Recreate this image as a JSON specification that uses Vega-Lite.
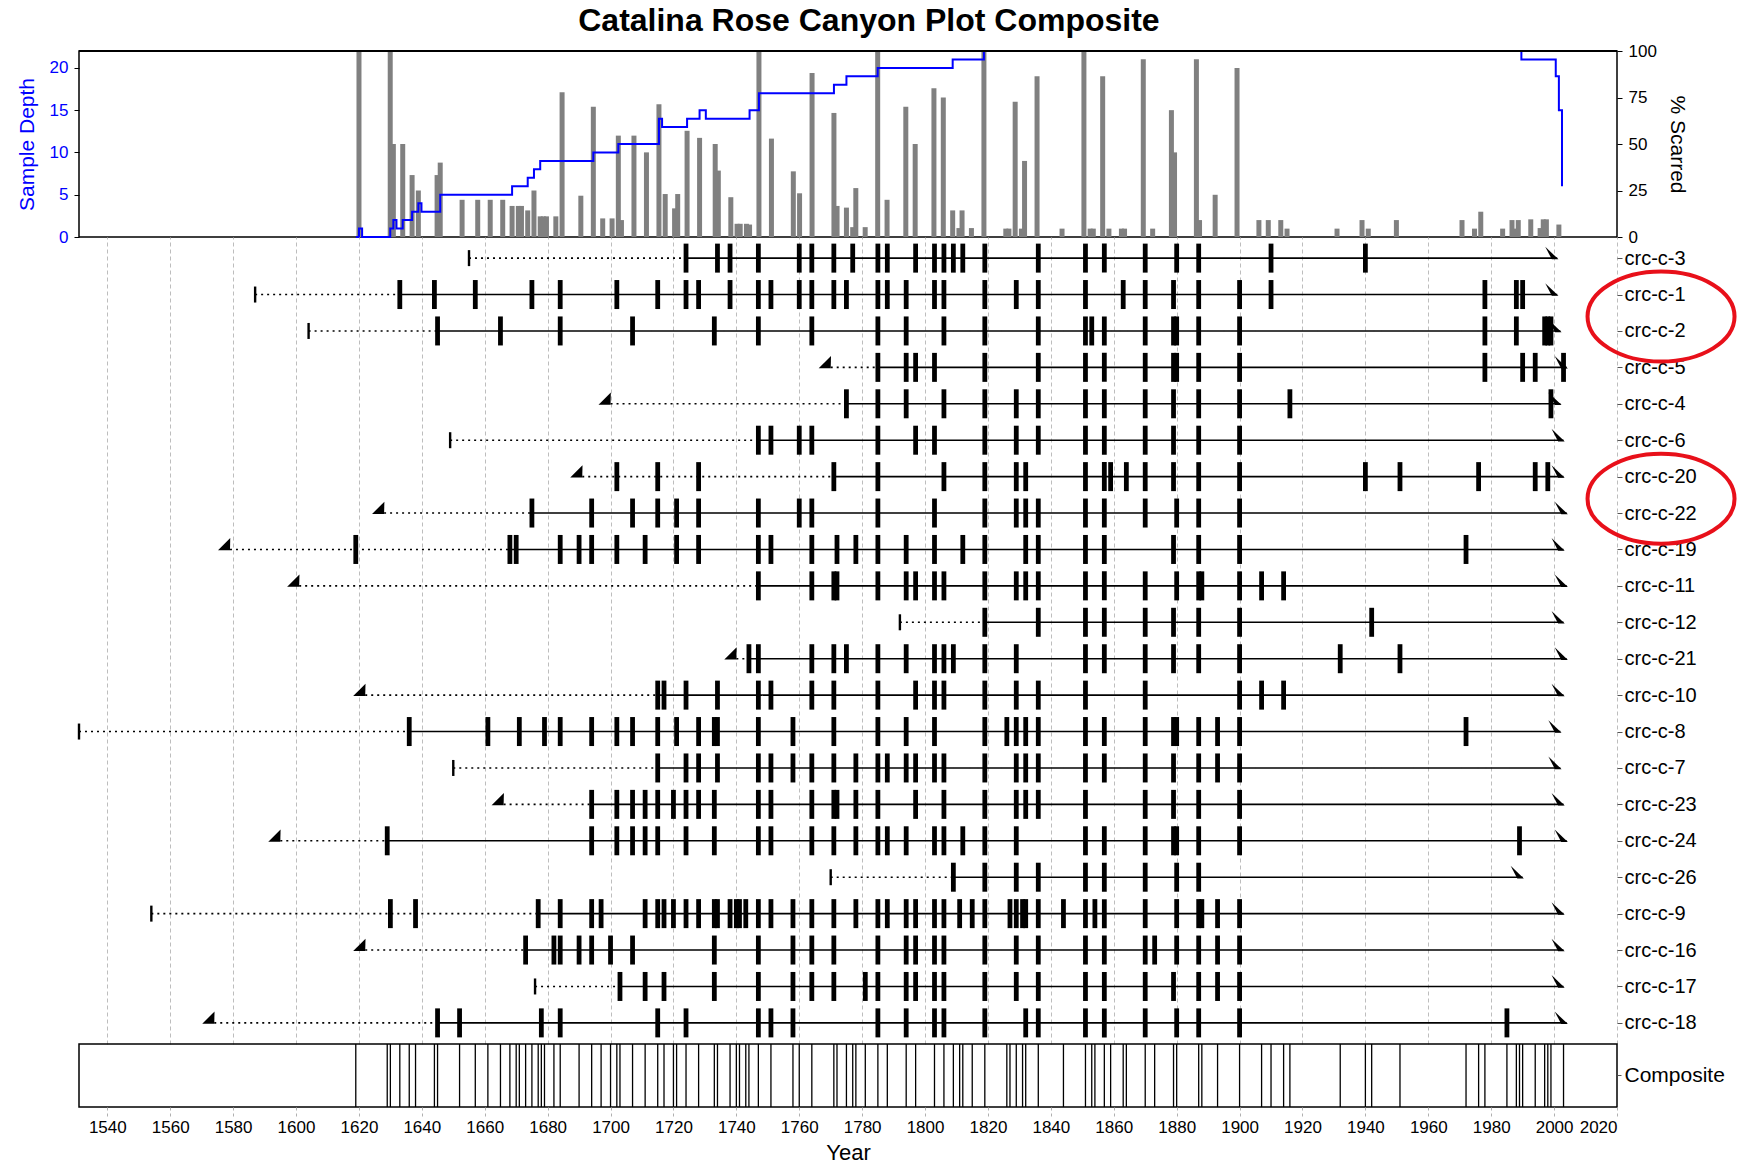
{
  "$schema": "https://vega.github.io/schema/vega-lite/v6.json",
  "padding": {"left": 15, "top": 5, "right": 5, "bottom": 0},
  "spacing": 0,
  "bounds": "flush",
  "title": {"text": "Catalina Rose Canyon Plot Composite", "fontSize": 32, "font": "Liberation Sans", "fontWeight": "bold", "offset": 3, "color": "black", "anchor": "middle", "dx": -10},
  "config": {
    "font": "Liberation Sans",
    "view": {"stroke": null},
    "axis": {"labelFont": "Liberation Sans", "titleFont": "Liberation Sans", "labelColor": "black", "titleColor": "black", "tickColor": "black", "domain": false, "gridColor": "#BDBDBD", "gridDash": [4, 3], "gridWidth": 1, "titleFontWeight": "normal"}
  },
  "datasets": {
    "pct": [
      {"year":1619,"pct":100},{"year":1629,"pct":100},{"year":1630,"pct":50},{"year":1633,"pct":50},{"year":1636,"pct":33.3},{"year":1638,"pct":25},{"year":1644,"pct":33.3},{"year":1645,"pct":40},{"year":1652,"pct":20},{"year":1657,"pct":20},{"year":1661,"pct":20},{"year":1665,"pct":20},{"year":1668,"pct":16.7},{"year":1670,"pct":16.7},{"year":1671,"pct":16.7},{"year":1673,"pct":14.3},{"year":1675,"pct":25},{"year":1677,"pct":11.1},{"year":1678,"pct":11.1},{"year":1679,"pct":11.1},{"year":1682,"pct":11.1},{"year":1684,"pct":77.8},{"year":1690,"pct":22.2},{"year":1694,"pct":70},{"year":1697,"pct":10},{"year":1700,"pct":10},{"year":1702,"pct":54.5},{"year":1703,"pct":9.1},{"year":1707,"pct":54.5},{"year":1711,"pct":45.5},{"year":1715,"pct":71.4},{"year":1717,"pct":23.1},{"year":1720,"pct":15.4},{"year":1721,"pct":23.1},{"year":1724,"pct":57.1},{"year":1728,"pct":53.3},{"year":1733,"pct":50},{"year":1734,"pct":35.7},{"year":1738,"pct":21.4},{"year":1740,"pct":7.1},{"year":1741,"pct":7.1},{"year":1743,"pct":7.1},{"year":1744,"pct":6.7},{"year":1747,"pct":100},{"year":1751,"pct":52.9},{"year":1758,"pct":35.3},{"year":1760,"pct":23.5},{"year":1764,"pct":88.2},{"year":1771,"pct":66.7},{"year":1772,"pct":16.7},{"year":1775,"pct":15.8},{"year":1777,"pct":5.3},{"year":1778,"pct":26.3},{"year":1781,"pct":5.3},{"year":1785,"pct":100},{"year":1788,"pct":20},{"year":1794,"pct":70},{"year":1797,"pct":50},{"year":1803,"pct":80},{"year":1806,"pct":75},{"year":1809,"pct":14.3},{"year":1811,"pct":4.8},{"year":1812,"pct":14.3},{"year":1815,"pct":4.8},{"year":1819,"pct":100},{"year":1826,"pct":4.5},{"year":1827,"pct":4.5},{"year":1829,"pct":72.7},{"year":1831,"pct":4.5},{"year":1832,"pct":40.9},{"year":1836,"pct":86.4},{"year":1844,"pct":4.5},{"year":1851,"pct":100},{"year":1853,"pct":4.5},{"year":1854,"pct":4.5},{"year":1857,"pct":86.4},{"year":1859,"pct":4.5},{"year":1863,"pct":4.5},{"year":1864,"pct":4.5},{"year":1870,"pct":95.5},{"year":1873,"pct":4.5},{"year":1879,"pct":68.2},{"year":1880,"pct":45.5},{"year":1887,"pct":95.5},{"year":1888,"pct":9.1},{"year":1893,"pct":22.7},{"year":1900,"pct":90.9},{"year":1907,"pct":9.1},{"year":1910,"pct":9.1},{"year":1914,"pct":9.1},{"year":1916,"pct":4.5},{"year":1932,"pct":4.5},{"year":1940,"pct":9.1},{"year":1942,"pct":4.5},{"year":1951,"pct":9.1},{"year":1972,"pct":9.1},{"year":1976,"pct":4.5},{"year":1978,"pct":13.6},{"year":1985,"pct":4.5},{"year":1988,"pct":9.1},{"year":1989,"pct":4.5},{"year":1990,"pct":9.1},{"year":1994,"pct":9.5},{"year":1997,"pct":4.8},{"year":1998,"pct":9.5},{"year":1999,"pct":9.5},{"year":2003,"pct":6.7}
    ],
    "depth": [
      {"year":1618,"depth":0},{"year":1619,"depth":1},{"year":1620,"depth":0},{"year":1629,"depth":1},{"year":1630,"depth":2},{"year":1631,"depth":1},{"year":1633,"depth":2},{"year":1636,"depth":3},{"year":1638,"depth":4},{"year":1639,"depth":3},{"year":1645,"depth":5},{"year":1668,"depth":6},{"year":1673,"depth":7},{"year":1675,"depth":8},{"year":1677,"depth":9},{"year":1694,"depth":10},{"year":1702,"depth":11},{"year":1715,"depth":14},{"year":1716,"depth":13},{"year":1724,"depth":14},{"year":1728,"depth":15},{"year":1730,"depth":14},{"year":1744,"depth":15},{"year":1747,"depth":17},{"year":1771,"depth":18},{"year":1775,"depth":19},{"year":1785,"depth":20},{"year":1809,"depth":21},{"year":1819,"depth":22},{"year":1991,"depth":21},{"year":2002,"depth":19},{"year":2003,"depth":15},{"year":2004,"depth":6}
    ],
    "frame": [
      {"top": 22}
    ],
    "segments": [
      {"tree":"crc-c-3","start":1655,"end":1724,"kind":"non"},{"tree":"crc-c-3","start":1724,"end":2001,"kind":"rec"},
      {"tree":"crc-c-1","start":1587,"end":1633,"kind":"non"},{"tree":"crc-c-1","start":1633,"end":2001,"kind":"rec"},
      {"tree":"crc-c-2","start":1604,"end":1645,"kind":"non"},{"tree":"crc-c-2","start":1645,"end":2002,"kind":"rec"},
      {"tree":"crc-c-5","start":1770,"end":1785,"kind":"non"},{"tree":"crc-c-5","start":1785,"end":2004,"kind":"rec"},
      {"tree":"crc-c-4","start":1700,"end":1775,"kind":"non"},{"tree":"crc-c-4","start":1775,"end":2002,"kind":"rec"},
      {"tree":"crc-c-6","start":1649,"end":1747,"kind":"non"},{"tree":"crc-c-6","start":1747,"end":2003,"kind":"rec"},
      {"tree":"crc-c-20","start":1691,"end":1771,"kind":"non"},{"tree":"crc-c-20","start":1771,"end":2003,"kind":"rec"},
      {"tree":"crc-c-22","start":1628,"end":1675,"kind":"non"},{"tree":"crc-c-22","start":1675,"end":2004,"kind":"rec"},
      {"tree":"crc-c-19","start":1579,"end":1668,"kind":"non"},{"tree":"crc-c-19","start":1668,"end":2003,"kind":"rec"},
      {"tree":"crc-c-11","start":1601,"end":1747,"kind":"non"},{"tree":"crc-c-11","start":1747,"end":2004,"kind":"rec"},
      {"tree":"crc-c-12","start":1792,"end":1819,"kind":"non"},{"tree":"crc-c-12","start":1819,"end":2003,"kind":"rec"},
      {"tree":"crc-c-21","start":1740,"end":1744,"kind":"non"},{"tree":"crc-c-21","start":1744,"end":2004,"kind":"rec"},
      {"tree":"crc-c-10","start":1622,"end":1715,"kind":"non"},{"tree":"crc-c-10","start":1715,"end":2003,"kind":"rec"},
      {"tree":"crc-c-8","start":1531,"end":1636,"kind":"non"},{"tree":"crc-c-8","start":1636,"end":2002,"kind":"rec"},
      {"tree":"crc-c-7","start":1650,"end":1715,"kind":"non"},{"tree":"crc-c-7","start":1715,"end":2002,"kind":"rec"},
      {"tree":"crc-c-23","start":1666,"end":1694,"kind":"non"},{"tree":"crc-c-23","start":1694,"end":2003,"kind":"rec"},
      {"tree":"crc-c-24","start":1595,"end":1629,"kind":"non"},{"tree":"crc-c-24","start":1629,"end":2004,"kind":"rec"},
      {"tree":"crc-c-26","start":1770,"end":1809,"kind":"non"},{"tree":"crc-c-26","start":1809,"end":1990,"kind":"rec"},
      {"tree":"crc-c-9","start":1554,"end":1677,"kind":"non"},{"tree":"crc-c-9","start":1677,"end":2003,"kind":"rec"},
      {"tree":"crc-c-16","start":1622,"end":1673,"kind":"non"},{"tree":"crc-c-16","start":1673,"end":2003,"kind":"rec"},
      {"tree":"crc-c-17","start":1676,"end":1703,"kind":"non"},{"tree":"crc-c-17","start":1703,"end":2003,"kind":"rec"},
      {"tree":"crc-c-18","start":1574,"end":1645,"kind":"non"},{"tree":"crc-c-18","start":1645,"end":2004,"kind":"rec"}
    ],
    "pith": [
      {"tree":"crc-c-3","year":1655},{"tree":"crc-c-1","year":1587},{"tree":"crc-c-2","year":1604},{"tree":"crc-c-6","year":1649},{"tree":"crc-c-12","year":1792},{"tree":"crc-c-8","year":1531},{"tree":"crc-c-7","year":1650},{"tree":"crc-c-26","year":1770},{"tree":"crc-c-9","year":1554},{"tree":"crc-c-17","year":1676}
    ],
    "inner": [
      {"tree":"crc-c-5","year":1770},{"tree":"crc-c-4","year":1700},{"tree":"crc-c-20","year":1691},{"tree":"crc-c-22","year":1628},{"tree":"crc-c-19","year":1579},{"tree":"crc-c-11","year":1601},{"tree":"crc-c-21","year":1740},{"tree":"crc-c-10","year":1622},{"tree":"crc-c-23","year":1666},{"tree":"crc-c-24","year":1595},{"tree":"crc-c-16","year":1622},{"tree":"crc-c-18","year":1574}
    ],
    "outer": [
      {"tree":"crc-c-3","year":2001},{"tree":"crc-c-1","year":2001},{"tree":"crc-c-2","year":2002},{"tree":"crc-c-5","year":2004},{"tree":"crc-c-4","year":2002},{"tree":"crc-c-6","year":2003},{"tree":"crc-c-20","year":2003},{"tree":"crc-c-22","year":2004},{"tree":"crc-c-19","year":2003},{"tree":"crc-c-11","year":2004},{"tree":"crc-c-12","year":2003},{"tree":"crc-c-21","year":2004},{"tree":"crc-c-10","year":2003},{"tree":"crc-c-8","year":2002},{"tree":"crc-c-7","year":2002},{"tree":"crc-c-23","year":2003},{"tree":"crc-c-24","year":2004},{"tree":"crc-c-26","year":1990},{"tree":"crc-c-9","year":2003},{"tree":"crc-c-16","year":2003},{"tree":"crc-c-17","year":2003},{"tree":"crc-c-18","year":2004}
    ],
    "marks": [
      {"tree":"crc-c-1","year":2034},{"tree":"crc-c-20","year":2034}
    ],
    "scars": [
      {"tree":"crc-c-3","year":1724},{"tree":"crc-c-3","year":1734},{"tree":"crc-c-3","year":1738},{"tree":"crc-c-3","year":1747},{"tree":"crc-c-3","year":1760},{"tree":"crc-c-3","year":1764},{"tree":"crc-c-3","year":1771},{"tree":"crc-c-3","year":1777},{"tree":"crc-c-3","year":1785},{"tree":"crc-c-3","year":1788},{"tree":"crc-c-3","year":1797},{"tree":"crc-c-3","year":1803},{"tree":"crc-c-3","year":1806},{"tree":"crc-c-3","year":1809},{"tree":"crc-c-3","year":1812},{"tree":"crc-c-3","year":1819},{"tree":"crc-c-3","year":1836},{"tree":"crc-c-3","year":1851},{"tree":"crc-c-3","year":1857},{"tree":"crc-c-3","year":1870},{"tree":"crc-c-3","year":1880},{"tree":"crc-c-3","year":1887},{"tree":"crc-c-3","year":1910},{"tree":"crc-c-3","year":1940},
      {"tree":"crc-c-1","year":1633},{"tree":"crc-c-1","year":1644},{"tree":"crc-c-1","year":1657},{"tree":"crc-c-1","year":1675},{"tree":"crc-c-1","year":1684},{"tree":"crc-c-1","year":1702},{"tree":"crc-c-1","year":1715},{"tree":"crc-c-1","year":1724},{"tree":"crc-c-1","year":1728},{"tree":"crc-c-1","year":1738},{"tree":"crc-c-1","year":1747},{"tree":"crc-c-1","year":1751},{"tree":"crc-c-1","year":1760},{"tree":"crc-c-1","year":1764},{"tree":"crc-c-1","year":1771},{"tree":"crc-c-1","year":1775},{"tree":"crc-c-1","year":1785},{"tree":"crc-c-1","year":1788},{"tree":"crc-c-1","year":1794},{"tree":"crc-c-1","year":1803},{"tree":"crc-c-1","year":1806},{"tree":"crc-c-1","year":1819},{"tree":"crc-c-1","year":1829},{"tree":"crc-c-1","year":1836},{"tree":"crc-c-1","year":1851},{"tree":"crc-c-1","year":1863},{"tree":"crc-c-1","year":1870},{"tree":"crc-c-1","year":1879},{"tree":"crc-c-1","year":1887},{"tree":"crc-c-1","year":1900},{"tree":"crc-c-1","year":1910},{"tree":"crc-c-1","year":1978},{"tree":"crc-c-1","year":1988},{"tree":"crc-c-1","year":1990},
      {"tree":"crc-c-2","year":1645},{"tree":"crc-c-2","year":1665},{"tree":"crc-c-2","year":1684},{"tree":"crc-c-2","year":1707},{"tree":"crc-c-2","year":1733},{"tree":"crc-c-2","year":1747},{"tree":"crc-c-2","year":1764},{"tree":"crc-c-2","year":1785},{"tree":"crc-c-2","year":1794},{"tree":"crc-c-2","year":1806},{"tree":"crc-c-2","year":1819},{"tree":"crc-c-2","year":1836},{"tree":"crc-c-2","year":1851},{"tree":"crc-c-2","year":1853},{"tree":"crc-c-2","year":1857},{"tree":"crc-c-2","year":1870},{"tree":"crc-c-2","year":1879},{"tree":"crc-c-2","year":1880},{"tree":"crc-c-2","year":1887},{"tree":"crc-c-2","year":1900},{"tree":"crc-c-2","year":1978},{"tree":"crc-c-2","year":1988},{"tree":"crc-c-2","year":1997},{"tree":"crc-c-2","year":1998},{"tree":"crc-c-2","year":1999},
      {"tree":"crc-c-5","year":1785},{"tree":"crc-c-5","year":1794},{"tree":"crc-c-5","year":1797},{"tree":"crc-c-5","year":1803},{"tree":"crc-c-5","year":1819},{"tree":"crc-c-5","year":1836},{"tree":"crc-c-5","year":1851},{"tree":"crc-c-5","year":1857},{"tree":"crc-c-5","year":1870},{"tree":"crc-c-5","year":1879},{"tree":"crc-c-5","year":1880},{"tree":"crc-c-5","year":1887},{"tree":"crc-c-5","year":1900},{"tree":"crc-c-5","year":1978},{"tree":"crc-c-5","year":1990},{"tree":"crc-c-5","year":1994},{"tree":"crc-c-5","year":2003},
      {"tree":"crc-c-4","year":1775},{"tree":"crc-c-4","year":1785},{"tree":"crc-c-4","year":1794},{"tree":"crc-c-4","year":1806},{"tree":"crc-c-4","year":1819},{"tree":"crc-c-4","year":1829},{"tree":"crc-c-4","year":1836},{"tree":"crc-c-4","year":1851},{"tree":"crc-c-4","year":1857},{"tree":"crc-c-4","year":1870},{"tree":"crc-c-4","year":1879},{"tree":"crc-c-4","year":1887},{"tree":"crc-c-4","year":1900},{"tree":"crc-c-4","year":1916},{"tree":"crc-c-4","year":1999},
      {"tree":"crc-c-6","year":1747},{"tree":"crc-c-6","year":1751},{"tree":"crc-c-6","year":1760},{"tree":"crc-c-6","year":1764},{"tree":"crc-c-6","year":1785},{"tree":"crc-c-6","year":1797},{"tree":"crc-c-6","year":1803},{"tree":"crc-c-6","year":1819},{"tree":"crc-c-6","year":1829},{"tree":"crc-c-6","year":1836},{"tree":"crc-c-6","year":1851},{"tree":"crc-c-6","year":1857},{"tree":"crc-c-6","year":1870},{"tree":"crc-c-6","year":1879},{"tree":"crc-c-6","year":1887},{"tree":"crc-c-6","year":1900},
      {"tree":"crc-c-20","year":1702},{"tree":"crc-c-20","year":1715},{"tree":"crc-c-20","year":1728},{"tree":"crc-c-20","year":1771},{"tree":"crc-c-20","year":1785},{"tree":"crc-c-20","year":1806},{"tree":"crc-c-20","year":1819},{"tree":"crc-c-20","year":1829},{"tree":"crc-c-20","year":1832},{"tree":"crc-c-20","year":1851},{"tree":"crc-c-20","year":1857},{"tree":"crc-c-20","year":1859},{"tree":"crc-c-20","year":1864},{"tree":"crc-c-20","year":1870},{"tree":"crc-c-20","year":1879},{"tree":"crc-c-20","year":1887},{"tree":"crc-c-20","year":1900},{"tree":"crc-c-20","year":1940},{"tree":"crc-c-20","year":1951},{"tree":"crc-c-20","year":1976},{"tree":"crc-c-20","year":1994},{"tree":"crc-c-20","year":1998},
      {"tree":"crc-c-22","year":1675},{"tree":"crc-c-22","year":1694},{"tree":"crc-c-22","year":1707},{"tree":"crc-c-22","year":1715},{"tree":"crc-c-22","year":1721},{"tree":"crc-c-22","year":1728},{"tree":"crc-c-22","year":1747},{"tree":"crc-c-22","year":1760},{"tree":"crc-c-22","year":1764},{"tree":"crc-c-22","year":1785},{"tree":"crc-c-22","year":1803},{"tree":"crc-c-22","year":1819},{"tree":"crc-c-22","year":1829},{"tree":"crc-c-22","year":1832},{"tree":"crc-c-22","year":1836},{"tree":"crc-c-22","year":1851},{"tree":"crc-c-22","year":1857},{"tree":"crc-c-22","year":1870},{"tree":"crc-c-22","year":1880},{"tree":"crc-c-22","year":1887},{"tree":"crc-c-22","year":1900},
      {"tree":"crc-c-19","year":1619},{"tree":"crc-c-19","year":1668},{"tree":"crc-c-19","year":1670},{"tree":"crc-c-19","year":1684},{"tree":"crc-c-19","year":1690},{"tree":"crc-c-19","year":1694},{"tree":"crc-c-19","year":1702},{"tree":"crc-c-19","year":1711},{"tree":"crc-c-19","year":1721},{"tree":"crc-c-19","year":1728},{"tree":"crc-c-19","year":1747},{"tree":"crc-c-19","year":1751},{"tree":"crc-c-19","year":1764},{"tree":"crc-c-19","year":1772},{"tree":"crc-c-19","year":1778},{"tree":"crc-c-19","year":1785},{"tree":"crc-c-19","year":1794},{"tree":"crc-c-19","year":1803},{"tree":"crc-c-19","year":1812},{"tree":"crc-c-19","year":1819},{"tree":"crc-c-19","year":1832},{"tree":"crc-c-19","year":1836},{"tree":"crc-c-19","year":1851},{"tree":"crc-c-19","year":1857},{"tree":"crc-c-19","year":1879},{"tree":"crc-c-19","year":1887},{"tree":"crc-c-19","year":1900},{"tree":"crc-c-19","year":1972},
      {"tree":"crc-c-11","year":1747},{"tree":"crc-c-11","year":1764},{"tree":"crc-c-11","year":1771},{"tree":"crc-c-11","year":1772},{"tree":"crc-c-11","year":1785},{"tree":"crc-c-11","year":1794},{"tree":"crc-c-11","year":1797},{"tree":"crc-c-11","year":1803},{"tree":"crc-c-11","year":1806},{"tree":"crc-c-11","year":1819},{"tree":"crc-c-11","year":1829},{"tree":"crc-c-11","year":1832},{"tree":"crc-c-11","year":1836},{"tree":"crc-c-11","year":1851},{"tree":"crc-c-11","year":1857},{"tree":"crc-c-11","year":1870},{"tree":"crc-c-11","year":1880},{"tree":"crc-c-11","year":1887},{"tree":"crc-c-11","year":1888},{"tree":"crc-c-11","year":1900},{"tree":"crc-c-11","year":1907},{"tree":"crc-c-11","year":1914},
      {"tree":"crc-c-12","year":1819},{"tree":"crc-c-12","year":1836},{"tree":"crc-c-12","year":1851},{"tree":"crc-c-12","year":1857},{"tree":"crc-c-12","year":1870},{"tree":"crc-c-12","year":1879},{"tree":"crc-c-12","year":1887},{"tree":"crc-c-12","year":1900},{"tree":"crc-c-12","year":1942},
      {"tree":"crc-c-21","year":1744},{"tree":"crc-c-21","year":1747},{"tree":"crc-c-21","year":1764},{"tree":"crc-c-21","year":1771},{"tree":"crc-c-21","year":1775},{"tree":"crc-c-21","year":1785},{"tree":"crc-c-21","year":1794},{"tree":"crc-c-21","year":1803},{"tree":"crc-c-21","year":1806},{"tree":"crc-c-21","year":1809},{"tree":"crc-c-21","year":1819},{"tree":"crc-c-21","year":1829},{"tree":"crc-c-21","year":1851},{"tree":"crc-c-21","year":1857},{"tree":"crc-c-21","year":1870},{"tree":"crc-c-21","year":1879},{"tree":"crc-c-21","year":1887},{"tree":"crc-c-21","year":1900},{"tree":"crc-c-21","year":1932},{"tree":"crc-c-21","year":1951},
      {"tree":"crc-c-10","year":1715},{"tree":"crc-c-10","year":1717},{"tree":"crc-c-10","year":1724},{"tree":"crc-c-10","year":1734},{"tree":"crc-c-10","year":1747},{"tree":"crc-c-10","year":1751},{"tree":"crc-c-10","year":1764},{"tree":"crc-c-10","year":1771},{"tree":"crc-c-10","year":1785},{"tree":"crc-c-10","year":1797},{"tree":"crc-c-10","year":1803},{"tree":"crc-c-10","year":1806},{"tree":"crc-c-10","year":1819},{"tree":"crc-c-10","year":1829},{"tree":"crc-c-10","year":1836},{"tree":"crc-c-10","year":1851},{"tree":"crc-c-10","year":1870},{"tree":"crc-c-10","year":1900},{"tree":"crc-c-10","year":1907},{"tree":"crc-c-10","year":1914},
      {"tree":"crc-c-8","year":1636},{"tree":"crc-c-8","year":1661},{"tree":"crc-c-8","year":1671},{"tree":"crc-c-8","year":1679},{"tree":"crc-c-8","year":1684},{"tree":"crc-c-8","year":1694},{"tree":"crc-c-8","year":1702},{"tree":"crc-c-8","year":1707},{"tree":"crc-c-8","year":1715},{"tree":"crc-c-8","year":1721},{"tree":"crc-c-8","year":1728},{"tree":"crc-c-8","year":1733},{"tree":"crc-c-8","year":1734},{"tree":"crc-c-8","year":1747},{"tree":"crc-c-8","year":1758},{"tree":"crc-c-8","year":1771},{"tree":"crc-c-8","year":1785},{"tree":"crc-c-8","year":1794},{"tree":"crc-c-8","year":1803},{"tree":"crc-c-8","year":1819},{"tree":"crc-c-8","year":1826},{"tree":"crc-c-8","year":1829},{"tree":"crc-c-8","year":1832},{"tree":"crc-c-8","year":1836},{"tree":"crc-c-8","year":1851},{"tree":"crc-c-8","year":1857},{"tree":"crc-c-8","year":1870},{"tree":"crc-c-8","year":1879},{"tree":"crc-c-8","year":1880},{"tree":"crc-c-8","year":1887},{"tree":"crc-c-8","year":1893},{"tree":"crc-c-8","year":1900},{"tree":"crc-c-8","year":1972},
      {"tree":"crc-c-7","year":1715},{"tree":"crc-c-7","year":1724},{"tree":"crc-c-7","year":1728},{"tree":"crc-c-7","year":1734},{"tree":"crc-c-7","year":1747},{"tree":"crc-c-7","year":1751},{"tree":"crc-c-7","year":1758},{"tree":"crc-c-7","year":1764},{"tree":"crc-c-7","year":1771},{"tree":"crc-c-7","year":1778},{"tree":"crc-c-7","year":1785},{"tree":"crc-c-7","year":1788},{"tree":"crc-c-7","year":1794},{"tree":"crc-c-7","year":1797},{"tree":"crc-c-7","year":1803},{"tree":"crc-c-7","year":1806},{"tree":"crc-c-7","year":1819},{"tree":"crc-c-7","year":1829},{"tree":"crc-c-7","year":1832},{"tree":"crc-c-7","year":1836},{"tree":"crc-c-7","year":1851},{"tree":"crc-c-7","year":1857},{"tree":"crc-c-7","year":1870},{"tree":"crc-c-7","year":1879},{"tree":"crc-c-7","year":1887},{"tree":"crc-c-7","year":1893},{"tree":"crc-c-7","year":1900},
      {"tree":"crc-c-23","year":1694},{"tree":"crc-c-23","year":1702},{"tree":"crc-c-23","year":1707},{"tree":"crc-c-23","year":1711},{"tree":"crc-c-23","year":1715},{"tree":"crc-c-23","year":1720},{"tree":"crc-c-23","year":1724},{"tree":"crc-c-23","year":1728},{"tree":"crc-c-23","year":1733},{"tree":"crc-c-23","year":1747},{"tree":"crc-c-23","year":1751},{"tree":"crc-c-23","year":1764},{"tree":"crc-c-23","year":1771},{"tree":"crc-c-23","year":1772},{"tree":"crc-c-23","year":1778},{"tree":"crc-c-23","year":1785},{"tree":"crc-c-23","year":1797},{"tree":"crc-c-23","year":1806},{"tree":"crc-c-23","year":1819},{"tree":"crc-c-23","year":1829},{"tree":"crc-c-23","year":1832},{"tree":"crc-c-23","year":1836},{"tree":"crc-c-23","year":1851},{"tree":"crc-c-23","year":1870},{"tree":"crc-c-23","year":1879},{"tree":"crc-c-23","year":1887},{"tree":"crc-c-23","year":1900},
      {"tree":"crc-c-24","year":1629},{"tree":"crc-c-24","year":1694},{"tree":"crc-c-24","year":1702},{"tree":"crc-c-24","year":1707},{"tree":"crc-c-24","year":1711},{"tree":"crc-c-24","year":1715},{"tree":"crc-c-24","year":1724},{"tree":"crc-c-24","year":1733},{"tree":"crc-c-24","year":1747},{"tree":"crc-c-24","year":1751},{"tree":"crc-c-24","year":1764},{"tree":"crc-c-24","year":1771},{"tree":"crc-c-24","year":1778},{"tree":"crc-c-24","year":1785},{"tree":"crc-c-24","year":1788},{"tree":"crc-c-24","year":1794},{"tree":"crc-c-24","year":1803},{"tree":"crc-c-24","year":1806},{"tree":"crc-c-24","year":1812},{"tree":"crc-c-24","year":1819},{"tree":"crc-c-24","year":1829},{"tree":"crc-c-24","year":1851},{"tree":"crc-c-24","year":1857},{"tree":"crc-c-24","year":1870},{"tree":"crc-c-24","year":1879},{"tree":"crc-c-24","year":1880},{"tree":"crc-c-24","year":1887},{"tree":"crc-c-24","year":1900},{"tree":"crc-c-24","year":1989},
      {"tree":"crc-c-26","year":1809},{"tree":"crc-c-26","year":1819},{"tree":"crc-c-26","year":1829},{"tree":"crc-c-26","year":1836},{"tree":"crc-c-26","year":1851},{"tree":"crc-c-26","year":1857},{"tree":"crc-c-26","year":1870},{"tree":"crc-c-26","year":1880},{"tree":"crc-c-26","year":1887},
      {"tree":"crc-c-9","year":1630},{"tree":"crc-c-9","year":1638},{"tree":"crc-c-9","year":1677},{"tree":"crc-c-9","year":1684},{"tree":"crc-c-9","year":1694},{"tree":"crc-c-9","year":1697},{"tree":"crc-c-9","year":1711},{"tree":"crc-c-9","year":1715},{"tree":"crc-c-9","year":1717},{"tree":"crc-c-9","year":1720},{"tree":"crc-c-9","year":1724},{"tree":"crc-c-9","year":1728},{"tree":"crc-c-9","year":1733},{"tree":"crc-c-9","year":1734},{"tree":"crc-c-9","year":1738},{"tree":"crc-c-9","year":1740},{"tree":"crc-c-9","year":1741},{"tree":"crc-c-9","year":1743},{"tree":"crc-c-9","year":1747},{"tree":"crc-c-9","year":1751},{"tree":"crc-c-9","year":1758},{"tree":"crc-c-9","year":1764},{"tree":"crc-c-9","year":1771},{"tree":"crc-c-9","year":1778},{"tree":"crc-c-9","year":1785},{"tree":"crc-c-9","year":1788},{"tree":"crc-c-9","year":1794},{"tree":"crc-c-9","year":1797},{"tree":"crc-c-9","year":1803},{"tree":"crc-c-9","year":1806},{"tree":"crc-c-9","year":1811},{"tree":"crc-c-9","year":1815},{"tree":"crc-c-9","year":1819},{"tree":"crc-c-9","year":1827},{"tree":"crc-c-9","year":1829},{"tree":"crc-c-9","year":1831},{"tree":"crc-c-9","year":1832},{"tree":"crc-c-9","year":1836},{"tree":"crc-c-9","year":1844},{"tree":"crc-c-9","year":1851},{"tree":"crc-c-9","year":1854},{"tree":"crc-c-9","year":1857},{"tree":"crc-c-9","year":1870},{"tree":"crc-c-9","year":1880},{"tree":"crc-c-9","year":1887},{"tree":"crc-c-9","year":1888},{"tree":"crc-c-9","year":1893},{"tree":"crc-c-9","year":1900},
      {"tree":"crc-c-16","year":1673},{"tree":"crc-c-16","year":1682},{"tree":"crc-c-16","year":1684},{"tree":"crc-c-16","year":1690},{"tree":"crc-c-16","year":1694},{"tree":"crc-c-16","year":1700},{"tree":"crc-c-16","year":1707},{"tree":"crc-c-16","year":1733},{"tree":"crc-c-16","year":1747},{"tree":"crc-c-16","year":1758},{"tree":"crc-c-16","year":1764},{"tree":"crc-c-16","year":1771},{"tree":"crc-c-16","year":1785},{"tree":"crc-c-16","year":1794},{"tree":"crc-c-16","year":1797},{"tree":"crc-c-16","year":1803},{"tree":"crc-c-16","year":1806},{"tree":"crc-c-16","year":1819},{"tree":"crc-c-16","year":1829},{"tree":"crc-c-16","year":1836},{"tree":"crc-c-16","year":1851},{"tree":"crc-c-16","year":1857},{"tree":"crc-c-16","year":1870},{"tree":"crc-c-16","year":1873},{"tree":"crc-c-16","year":1880},{"tree":"crc-c-16","year":1887},{"tree":"crc-c-16","year":1893},{"tree":"crc-c-16","year":1900},
      {"tree":"crc-c-17","year":1703},{"tree":"crc-c-17","year":1711},{"tree":"crc-c-17","year":1717},{"tree":"crc-c-17","year":1733},{"tree":"crc-c-17","year":1747},{"tree":"crc-c-17","year":1758},{"tree":"crc-c-17","year":1764},{"tree":"crc-c-17","year":1771},{"tree":"crc-c-17","year":1781},{"tree":"crc-c-17","year":1785},{"tree":"crc-c-17","year":1794},{"tree":"crc-c-17","year":1797},{"tree":"crc-c-17","year":1803},{"tree":"crc-c-17","year":1806},{"tree":"crc-c-17","year":1819},{"tree":"crc-c-17","year":1829},{"tree":"crc-c-17","year":1836},{"tree":"crc-c-17","year":1851},{"tree":"crc-c-17","year":1857},{"tree":"crc-c-17","year":1870},{"tree":"crc-c-17","year":1879},{"tree":"crc-c-17","year":1887},{"tree":"crc-c-17","year":1893},{"tree":"crc-c-17","year":1900},
      {"tree":"crc-c-18","year":1645},{"tree":"crc-c-18","year":1652},{"tree":"crc-c-18","year":1678},{"tree":"crc-c-18","year":1684},{"tree":"crc-c-18","year":1715},{"tree":"crc-c-18","year":1724},{"tree":"crc-c-18","year":1747},{"tree":"crc-c-18","year":1751},{"tree":"crc-c-18","year":1758},{"tree":"crc-c-18","year":1785},{"tree":"crc-c-18","year":1794},{"tree":"crc-c-18","year":1803},{"tree":"crc-c-18","year":1806},{"tree":"crc-c-18","year":1819},{"tree":"crc-c-18","year":1832},{"tree":"crc-c-18","year":1836},{"tree":"crc-c-18","year":1851},{"tree":"crc-c-18","year":1857},{"tree":"crc-c-18","year":1870},{"tree":"crc-c-18","year":1880},{"tree":"crc-c-18","year":1887},{"tree":"crc-c-18","year":1900},{"tree":"crc-c-18","year":1985}
    ],
    "composite": [
      {"year":1619,"label":"Composite"},{"year":1629,"label":"Composite"},{"year":1630,"label":"Composite"},{"year":1633,"label":"Composite"},{"year":1636,"label":"Composite"},{"year":1638,"label":"Composite"},{"year":1644,"label":"Composite"},{"year":1645,"label":"Composite"},{"year":1652,"label":"Composite"},{"year":1657,"label":"Composite"},{"year":1661,"label":"Composite"},{"year":1665,"label":"Composite"},{"year":1668,"label":"Composite"},{"year":1670,"label":"Composite"},{"year":1671,"label":"Composite"},{"year":1673,"label":"Composite"},{"year":1675,"label":"Composite"},{"year":1677,"label":"Composite"},{"year":1678,"label":"Composite"},{"year":1679,"label":"Composite"},{"year":1682,"label":"Composite"},{"year":1684,"label":"Composite"},{"year":1690,"label":"Composite"},{"year":1694,"label":"Composite"},{"year":1697,"label":"Composite"},{"year":1700,"label":"Composite"},{"year":1702,"label":"Composite"},{"year":1703,"label":"Composite"},{"year":1707,"label":"Composite"},{"year":1711,"label":"Composite"},{"year":1715,"label":"Composite"},{"year":1717,"label":"Composite"},{"year":1720,"label":"Composite"},{"year":1721,"label":"Composite"},{"year":1724,"label":"Composite"},{"year":1728,"label":"Composite"},{"year":1733,"label":"Composite"},{"year":1734,"label":"Composite"},{"year":1738,"label":"Composite"},{"year":1740,"label":"Composite"},{"year":1741,"label":"Composite"},{"year":1743,"label":"Composite"},{"year":1744,"label":"Composite"},{"year":1747,"label":"Composite"},{"year":1751,"label":"Composite"},{"year":1758,"label":"Composite"},{"year":1760,"label":"Composite"},{"year":1764,"label":"Composite"},{"year":1771,"label":"Composite"},{"year":1772,"label":"Composite"},{"year":1775,"label":"Composite"},{"year":1777,"label":"Composite"},{"year":1778,"label":"Composite"},{"year":1781,"label":"Composite"},{"year":1785,"label":"Composite"},{"year":1788,"label":"Composite"},{"year":1794,"label":"Composite"},{"year":1797,"label":"Composite"},{"year":1803,"label":"Composite"},{"year":1806,"label":"Composite"},{"year":1809,"label":"Composite"},{"year":1811,"label":"Composite"},{"year":1812,"label":"Composite"},{"year":1815,"label":"Composite"},{"year":1819,"label":"Composite"},{"year":1826,"label":"Composite"},{"year":1827,"label":"Composite"},{"year":1829,"label":"Composite"},{"year":1831,"label":"Composite"},{"year":1832,"label":"Composite"},{"year":1836,"label":"Composite"},{"year":1844,"label":"Composite"},{"year":1851,"label":"Composite"},{"year":1853,"label":"Composite"},{"year":1854,"label":"Composite"},{"year":1857,"label":"Composite"},{"year":1859,"label":"Composite"},{"year":1863,"label":"Composite"},{"year":1864,"label":"Composite"},{"year":1870,"label":"Composite"},{"year":1873,"label":"Composite"},{"year":1879,"label":"Composite"},{"year":1880,"label":"Composite"},{"year":1887,"label":"Composite"},{"year":1888,"label":"Composite"},{"year":1893,"label":"Composite"},{"year":1900,"label":"Composite"},{"year":1907,"label":"Composite"},{"year":1910,"label":"Composite"},{"year":1914,"label":"Composite"},{"year":1916,"label":"Composite"},{"year":1932,"label":"Composite"},{"year":1940,"label":"Composite"},{"year":1942,"label":"Composite"},{"year":1951,"label":"Composite"},{"year":1972,"label":"Composite"},{"year":1976,"label":"Composite"},{"year":1978,"label":"Composite"},{"year":1985,"label":"Composite"},{"year":1988,"label":"Composite"},{"year":1989,"label":"Composite"},{"year":1990,"label":"Composite"},{"year":1994,"label":"Composite"},{"year":1997,"label":"Composite"},{"year":1998,"label":"Composite"},{"year":1999,"label":"Composite"},{"year":2003,"label":"Composite"}
    ]
  },
  "vconcat": [
    {
      "width": 1538,
      "height": 186,
      "view": {"stroke": "black", "strokeWidth": 1.5},
      "layer": [
        {
          "data": {"name": "pct"},
          "mark": {"type": "bar", "width": 5, "color": "#808080"},
          "encoding": {
            "x": {"field": "year", "type": "quantitative", "scale": {"domain": [1531, 2020], "nice": false, "zero": false},
                  "axis": {"values": [1540,1560,1580,1600,1620,1640,1660,1680,1700,1720,1740,1760,1780,1800,1820,1840,1860,1880,1900,1920,1940,1960,1980,2000,2020], "labels": false, "ticks": false, "domain": false, "title": null, "grid": true}},
            "y": {"field": "pct", "type": "quantitative", "scale": {"domain": [0, 100], "nice": false},
                  "axis": {"orient": "right", "values": [0,25,50,75,100], "title": "% Scarred", "titleFontSize": 21, "labelFontSize": 17, "tickSize": 5, "labelPadding": 6, "titlePadding": 10, "grid": false}}
          }
        },
        {
          "data": {"name": "depth"},
          "mark": {"type": "line", "interpolate": "step-after", "color": "#0000FF", "strokeWidth": 2},
          "encoding": {
            "x": {"field": "year", "type": "quantitative", "scale": {"domain": [1531, 2020], "nice": false, "zero": false}, "axis": null},
            "y": {"field": "depth", "type": "quantitative", "scale": {"domain": [0, 22], "nice": false},
                  "axis": {"orient": "left", "values": [0,5,10,15,20], "title": "Sample Depth", "titleColor": "#0000FF", "labelColor": "#0000FF", "titleFontSize": 21, "labelFontSize": 17, "tickSize": 5, "labelPadding": 6, "titlePadding": 12, "grid": false}}
          }
        },
        {
          "data": {"name": "frame"},
          "mark": {"type": "rule", "color": "black", "strokeWidth": 2},
          "encoding": {
            "y": {"field": "top", "type": "quantitative", "scale": {"domain": [0, 22], "nice": false}, "axis": null}
          }
        }
      ],
      "resolve": {"scale": {"y": "independent"}}
    },
    {
      "width": 1538,
      "height": 807,
      "layer": [
        {
          "data": {"name": "segments"},
          "mark": {"type": "rule", "color": "black", "strokeWidth": 1.6},
          "encoding": {
            "x": {"field": "start", "type": "quantitative", "scale": {"domain": [1531, 2020], "nice": false, "zero": false},
                  "axis": {"values": [1540,1560,1580,1600,1620,1640,1660,1680,1700,1720,1740,1760,1780,1800,1820,1840,1860,1880,1900,1920,1940,1960,1980,2000,2020], "labels": false, "ticks": false, "domain": false, "title": null, "grid": true}},
            "x2": {"field": "end"},
            "y": {"field": "tree", "type": "nominal", "scale": {"type": "point", "padding": 0.58, "domain": ["crc-c-3","crc-c-1","crc-c-2","crc-c-5","crc-c-4","crc-c-6","crc-c-20","crc-c-22","crc-c-19","crc-c-11","crc-c-12","crc-c-21","crc-c-10","crc-c-8","crc-c-7","crc-c-23","crc-c-24","crc-c-26","crc-c-9","crc-c-16","crc-c-17","crc-c-18"]},
                  "axis": {"orient": "right", "title": null, "labelFontSize": 20, "tickSize": 5, "labelPadding": 2, "grid": false, "tickColor": "#555555"}},
            "strokeDash": {"field": "kind", "type": "nominal", "scale": {"domain": ["rec", "non"], "range": [[1, 0], [2, 4]]}, "legend": null}
          }
        },
        {
          "data": {"name": "scars"},
          "mark": {"type": "tick", "color": "black", "thickness": 4.8, "size": 29, "opacity": 1},
          "encoding": {
            "x": {"field": "year", "type": "quantitative"},
            "y": {"field": "tree", "type": "nominal"}
          }
        },
        {
          "data": {"name": "pith"},
          "mark": {"type": "tick", "color": "black", "thickness": 2.4, "size": 16, "opacity": 1},
          "encoding": {
            "x": {"field": "year", "type": "quantitative"},
            "y": {"field": "tree", "type": "nominal"}
          }
        },
        {
          "data": {"name": "inner"},
          "mark": {"type": "point", "shape": "M -2 0.15 L 0 0.15 L 0.05 -1.9 Z", "filled": true, "color": "black", "size": 144, "opacity": 1},
          "encoding": {
            "x": {"field": "year", "type": "quantitative"},
            "y": {"field": "tree", "type": "nominal"}
          }
        },
        {
          "data": {"name": "outer"},
          "mark": {"type": "point", "shape": "M -2 -1.9 L 0.2 0.2 L -0.9 0.2 Z", "filled": true, "color": "black", "size": 144, "opacity": 1},
          "encoding": {
            "x": {"field": "year", "type": "quantitative"},
            "y": {"field": "tree", "type": "nominal"}
          }
        },
        {
          "data": {"name": "marks"},
          "mark": {"type": "point", "shape": "M -1 0.3 A 1 0.612 0 1 0 1 0.3 A 1 0.612 0 1 0 -1 0.3 Z", "filled": false, "stroke": "#E8101A", "strokeWidth": 4, "size": 21609, "opacity": 1},
          "encoding": {
            "x": {"field": "year", "type": "quantitative"},
            "y": {"field": "tree", "type": "nominal"}
          }
        }
      ]
    },
    {
      "width": 1538,
      "height": 63,
      "view": {"stroke": "black", "strokeWidth": 1.5},
      "data": {"name": "composite"},
      "mark": {"type": "tick", "color": "black", "thickness": 1.3, "size": 63, "opacity": 1},
      "encoding": {
        "x": {"field": "year", "type": "quantitative", "scale": {"domain": [1531, 2020], "nice": false, "zero": false},
              "axis": {"values": [1540,1560,1580,1600,1620,1640,1660,1680,1700,1720,1740,1760,1780,1800,1820,1840,1860,1880,1900,1920,1940,1960,1980,2000,2020], "format": "d", "title": "Year", "titleFontSize": 22, "labelFontSize": 17, "grid": false, "domain": false, "tickColor": "#B0B0B0", "tickDash": [3, 3], "tickSize": 9, "labelPadding": 3, "titlePadding": 7}},
        "y": {"field": "label", "type": "nominal", "scale": {"type": "band", "paddingInner": 0, "paddingOuter": 0},
              "axis": {"orient": "right", "title": null, "labelFontSize": 21, "tickSize": 4, "labelPadding": 3, "grid": false, "tickColor": "#555555"}}
      }
    }
  ]
}
